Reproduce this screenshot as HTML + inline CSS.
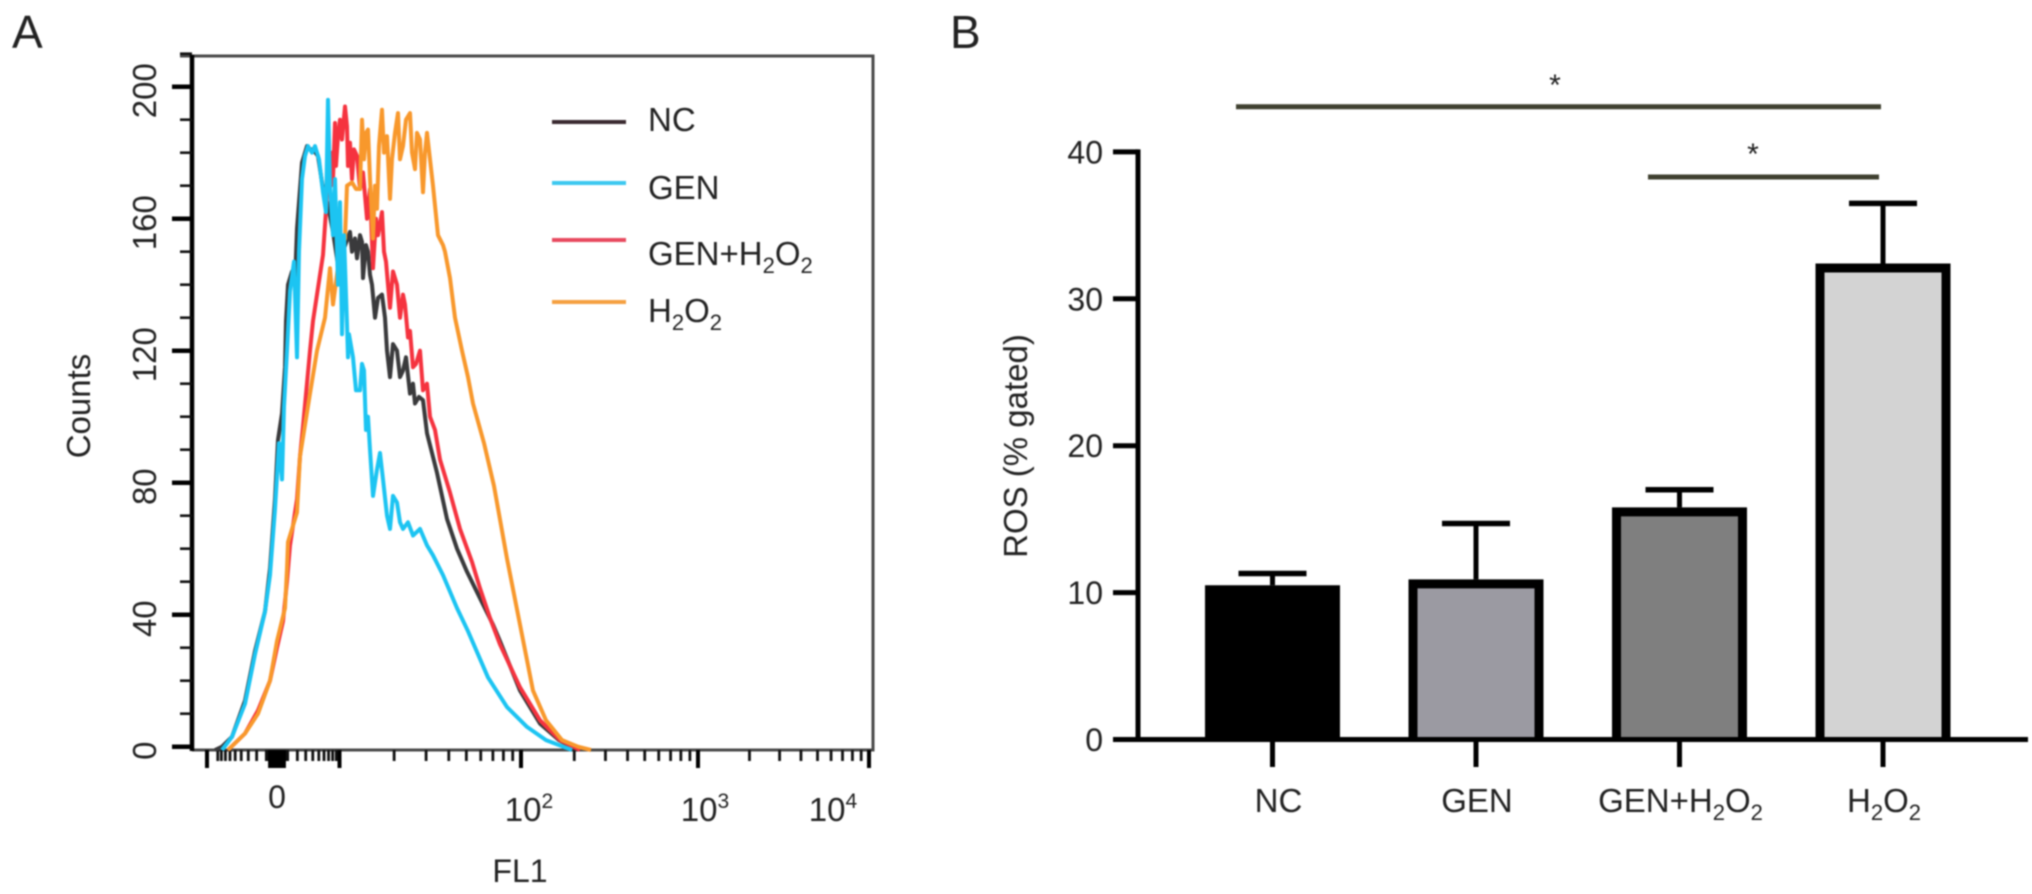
<!DOCTYPE html>
<html lang="en">
<head>
<meta charset="utf-8">
<title>Flow cytometry histogram and ROS bar chart</title>
<style>
html,body{margin:0;padding:0;background:#fff;width:2032px;height:894px;overflow:hidden}
svg{display:block;filter:blur(0.8px)}
text{font-family:"Liberation Sans",sans-serif;fill:#222}
</style>
</head>
<body>
<svg id="chart" xmlns="http://www.w3.org/2000/svg" width="2032" height="894" viewBox="0 0 2032 894">
  <text x="12" y="48" font-size="46">A</text>
  <text x="950" y="48" font-size="46">B</text>
  <g id="panelA"></g>
  <g id="panelB"></g>
  <text x="520" y="882" font-size="32" text-anchor="middle">FL1</text>
  <text transform="translate(90,406) rotate(-90)" font-size="33" text-anchor="middle">Counts</text>
  <text transform="translate(1027,446) rotate(-90)" font-size="33" text-anchor="middle">ROS (% gated)</text>
</svg>
<script>
// ---------- Panel A data: FL1 channel / event counts ----------
const countTicks = [0, 40, 80, 120, 160, 200];
const countMinorTicks = [10, 20, 30, 50, 60, 70, 90, 100, 110, 130, 140, 150, 170, 180, 190, 210];
const fl1DecadeTicks = [-10, 10, 100, 1000, 10000];
const fl1MinorLinear = [-9,-8,-7,-6,-5,-4,-3,-2,-1,-0.8,-0.6,-0.4,-0.2,0,0.2,0.4,0.6,0.8,1,2,3,4,5,6,7,8,9];
const fl1MinorLog = [20,30,40,50,60,70,80,90,200,300,400,500,600,700,800,900,2000,3000,4000,5000,6000,7000,8000,9000];

const ncChannels = [23,30,40,53,63,73,78,83,86,90,93,94,96,100,103,105,110,115,118,121,126,131,136,141,146,158,160,163,165,168,170,171,174,176,178,180,183,186,190,193,195,198,201,205,208,211,214,218,221,223,227,231,235,245,255,265,275,288,301,308,328,348,367,386];
const ncCounts   = [-1,0,3,14,29,41,54,75,93,101,115,129,140,144,141,157,177,182,181,181,179,169,164,156,146,156,150,154,148,155,153,142,152,150,143,140,130,136,137,130,120,112,122,120,112,114,118,107,110,104,106,105,95,83,69,60,53,45,37,32,17,7,2,-1];

const genChannels = [30,40,53,63,73,78,83,87,90,92,95,98,102,105,107,110,113,116,120,123,127,131,134,136,138,141,143,146,148,150,152,155,156,157,161,164,168,170,172,174,176,178,181,185,188,191,195,198,201,205,208,211,216,221,228,235,241,251,265,276,296,315,335,354,380];
const genCounts   = [-1,3,13,28,41,52,72,92,81,103,120,138,147,118,150,172,179,182,180,182,178,168,162,196,170,155,172,140,165,125,155,128,118,125,118,108,108,116,114,96,100,90,76,84,89,81,70,66,76,74,68,66,68,64,66,61,58,52,42,35,21,12,6,2,-1];

const redChannels = [36,53,66,78,85,91,95,98,101,105,108,111,118,121,125,131,135,137,139,140,141,143,144,146,148,150,153,155,156,158,160,162,165,168,171,175,178,181,184,186,190,192,194,198,201,205,208,211,213,216,218,221,224,228,231,235,238,243,248,258,268,280,288,298,308,328,348,368,388];
const redCounts   = [-1,4,11,20,30,38,50,61,67,75,88,97,120,129,137,149,167,176,170,180,172,189,176,185,190,184,194,188,176,183,172,181,179,169,174,160,169,145,160,155,162,150,147,133,144,140,130,137,134,124,126,115,116,120,108,110,100,96,87,77,66,56,48,39,31,18,8,2,-1];

const h2o2Channels = [36,53,66,78,85,93,95,96,105,108,118,125,133,138,141,148,153,155,160,164,168,170,172,174,176,178,181,183,185,187,190,192,195,198,200,203,206,208,211,214,218,220,223,225,228,231,233,235,238,241,246,251,253,258,263,270,276,281,292,302,315,328,341,354,370,386,399];
const h2o2Counts   = [-1,4,10,20,32,42,54,62,71,88,107,120,130,145,134,150,154,170,171,169,169,190,178,186,187,172,154,170,163,182,193,180,185,166,178,186,192,178,182,190,192,180,175,186,184,168,180,186,178,170,155,152,150,142,130,120,112,104,92,79,57,37,17,8,2,0,-1];

const legendLabels = ["NC", "GEN", "GEN+H", "H"];

// ---------- Panel B data: ROS % gated ----------
const rosGroups = ["NC", "GEN", "GEN+H", "H"];
const rosMeans = [10.5, 10.9, 15.8, 32.4];
const rosErrorTops = [11.3, 14.7, 17.0, 36.5];
const rosTicks = [0, 10, 20, 30, 40];

// ---------- axis functions ----------
const NS = "http://www.w3.org/2000/svg";
function make(parent, tag, attrs, txt) {
  const el = document.createElementNS(NS, tag);
  for (const k in attrs) el.setAttribute(k, attrs[k]);
  if (txt !== undefined) el.textContent = txt;
  parent.appendChild(el);
  return el;
}
const xChannel = ch => 192 + ch;
const yCount = c => 746.7 - 3.3 * c;
function xFl1(v) {
  if (v === 0) return 277;
  if (Math.abs(v) < 10) return 277 + 62.5 * Math.asinh(v / 3) / Math.asinh(10 / 3);
  if (v <= -10) return 207;
  const d = Math.log10(v);
  if (d <= 2) return 339.5 + (d - 1) * 181.5;
  if (d <= 3) return 521 + (d - 2) * 177;
  return 698 + (d - 3) * 171;
}
const yRos = v => 739.5 - 14.69 * v;
const xBand = i => 1272.5 + 203.5 * i;

// ---------- Panel A ----------
const A = document.getElementById("panelA");

const frame = make(A, "path", {d:"M180 56H873V750H192", fill:"none", stroke:"#4a4a4a", "stroke-width":3});



const yAxisA = make(A, "line", {x1:192, x2:192, y1:55, y2:751, stroke:"#000", "stroke-width":4.5});



countMinorTicks.forEach(v => {
  const t = make(A, "line", {x1:180, x2:192, y1:yCount(v), y2:yCount(v), stroke:"#111", "stroke-width":2.6});
  
  
});
countTicks.forEach(v => {
  const t = make(A, "line", {x1:172, x2:192, y1:yCount(v), y2:yCount(v), stroke:"#000", "stroke-width":4.5});
  
  
  const l = make(A, "text", {transform:"translate(156," + (yCount(v) + 4) + ") rotate(-90)", "font-size":33, "text-anchor":"middle"}, String(v));
  
  
});

fl1MinorLinear.concat(fl1MinorLog).forEach(v => {
  const t = make(A, "line", {x1:xFl1(v), x2:xFl1(v), y1:750, y2:761, stroke:"#111", "stroke-width":2.8});
  
  
});
fl1DecadeTicks.forEach(v => {
  const t = make(A, "line", {x1:xFl1(v), x2:xFl1(v), y1:750, y2:768, stroke:"#000", "stroke-width":4});
  
  
});
[-0.5, 0, 0.5].forEach(v => {
  const t = make(A, "line", {x1:xFl1(v), x2:xFl1(v), y1:750, y2:768, stroke:"#000", "stroke-width":7});
  
  
});

const zeroLabel = make(A, "text", {x:277, y:808, "font-size":32, "text-anchor":"middle"}, "0");


[[2, 529], [3, 705], [4, 833]].forEach(p => {
  const l = make(A, "text", {x:p[1], y:821, "font-size":33, "text-anchor":"middle"});
  
  
  make(l, "tspan", {}, "10");
  make(l, "tspan", {dy:-13, "font-size":21}, String(p[0]));
});

function histogram(channels, counts, color) {
  const d = channels.map((c, i) => (i ? "L" : "M") + xChannel(c).toFixed(1) + " " + yCount(counts[i]).toFixed(1)).join("");
  return make(A, "path", {d:d, fill:"none", stroke:color, "stroke-width":4, "stroke-linejoin":"round"});
}
const lineNc = histogram(ncChannels, ncCounts, "#3a3a3c");


const lineRed = histogram(redChannels, redCounts, "#f5333f");


const lineOrange = histogram(h2o2Channels, h2o2Counts, "#f8982c");


const lineBlue = histogram(genChannels, genCounts, "#1cc4f2");



// legend
const legendColors = ["#3a2a30", "#3cc8f0", "#e84a5f", "#f5a040"];
[122, 183, 240, 302].forEach((y, i) => {
  const s = make(A, "line", {x1:552, x2:626, y1:y, y2:y, stroke:legendColors[i], "stroke-width":4});
  
  
  const t = make(A, "text", {x:648, y:[131, 199, 265, 322][i], "font-size":33});
  
  
  make(t, "tspan", {}, legendLabels[i]);
  if (i >= 2) {
    make(t, "tspan", {dy:8, "font-size":22}, "2");
    make(t, "tspan", {dy:-8}, "O");
    make(t, "tspan", {dy:8, "font-size":22}, "2");
  }
});

// ---------- Panel B ----------
const B = document.getElementById("panelB");
const barFills = ["#000000", "#9b9aa2", "#7f7f7f", "#d3d3d3"];

rosMeans.forEach((m, i) => {
  const cx = xBand(i);
  const stem = make(B, "line", {x1:cx, x2:cx, y1:yRos(m), y2:yRos(rosErrorTops[i]), stroke:"#000", "stroke-width":5});
  
  
  const cap = make(B, "line", {x1:cx - 34, x2:cx + 34, y1:yRos(rosErrorTops[i]), y2:yRos(rosErrorTops[i]), stroke:"#000", "stroke-width":5.5});
  
  
  const barPath = "M" + (cx - 63) + " " + yRos(0) + "V" + (yRos(m) + 4.5) + "H" + (cx + 63) + "V" + yRos(0);
  const r = make(B, "path", {d:barPath, fill:barFills[i], stroke:"#000", "stroke-width":9});
  
  
  const t = make(B, "line", {x1:cx, x2:cx, y1:739, y2:767, stroke:"#000", "stroke-width":5});
  
  
  const l = make(B, "text", {x:cx + (i === 0 ? 6 : 1), y:812, "font-size":33, "text-anchor":"middle"});
  
  
  make(l, "tspan", {}, rosGroups[i]);
  if (i >= 2) {
    make(l, "tspan", {dy:8, "font-size":22}, "2");
    make(l, "tspan", {dy:-8}, "O");
    make(l, "tspan", {dy:8, "font-size":22}, "2");
  }
});

const baseB = make(B, "line", {x1:1136, x2:2028, y1:yRos(0), y2:yRos(0), stroke:"#000", "stroke-width":5});


const yAxisB = make(B, "line", {x1:1138, x2:1138, y1:yRos(40) - 2.5, y2:yRos(0) + 2.5, stroke:"#000", "stroke-width":5});


rosTicks.forEach(v => {
  const t = make(B, "line", {x1:1113, x2:1138, y1:yRos(v), y2:yRos(v), stroke:"#000", "stroke-width":5});
  
  
  const l = make(B, "text", {x:1103, y:yRos(v) + 11.5, "font-size":32, "text-anchor":"end"}, String(v));
  
  
});

const sigTop = make(B, "line", {x1:1236, x2:1881, y1:106.7, y2:106.7, stroke:"#3f4030", "stroke-width":5});


const sigLow = make(B, "line", {x1:1648, x2:1879, y1:177, y2:177, stroke:"#3f4030", "stroke-width":5});


const starTop = make(B, "text", {x:1555, y:95, "font-size":30, "text-anchor":"middle", fill:"#444"}, "*");


const starLow = make(B, "text", {x:1753, y:164, "font-size":30, "text-anchor":"middle", fill:"#444"}, "*");


</script>
</body>
</html>
